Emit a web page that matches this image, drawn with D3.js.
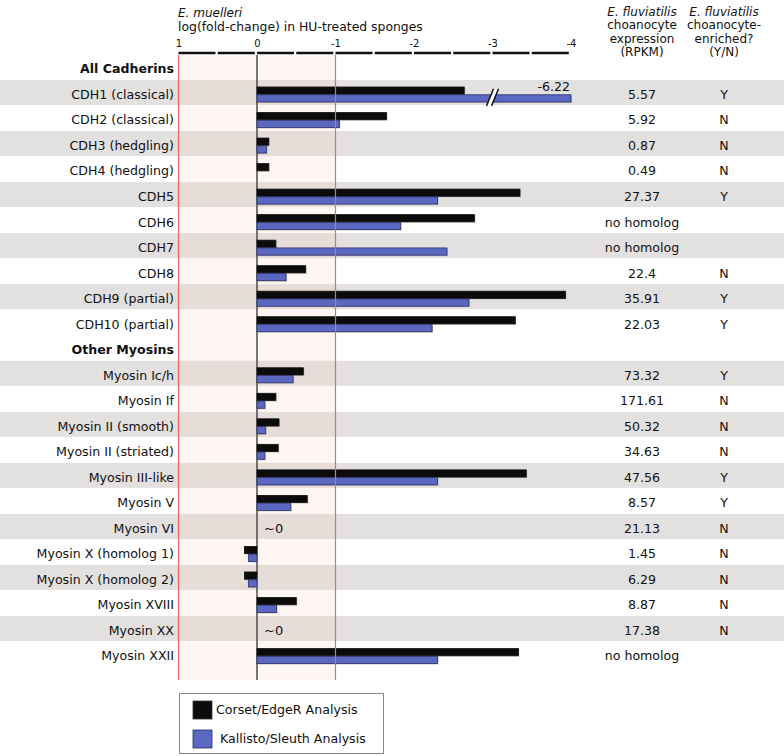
<!DOCTYPE html>
<html>
<head>
<meta charset="utf-8">
<script src="https://cdn.jsdelivr.net/npm/d3@7"></script>
<style>
  html, body { margin: 0; padding: 0; background: #fff; }
  svg { display: block; font-family: "DejaVu Sans", sans-serif; }
</style>
</head>
<body>
<svg id="chart" width="784" height="756"></svg>
<script>
// ---------------- data ----------------
const rowLabels = [
  "All Cadherins", "CDH1 (classical)", "CDH2 (classical)", "CDH3 (hedgling)", "CDH4 (hedgling)",
  "CDH5", "CDH6", "CDH7", "CDH8", "CDH9 (partial)", "CDH10 (partial)",
  "Other Myosins", "Myosin Ic/h", "Myosin If", "Myosin II (smooth)", "Myosin II (striated)",
  "Myosin III-like", "Myosin V", "Myosin VI", "Myosin X (homolog 1)", "Myosin X (homolog 2)",
  "Myosin XVIII", "Myosin XX", "Myosin XXII"
];
const headerRows = ["All Cadherins", "Other Myosins"];
const shadedRows = ["CDH1 (classical)", "CDH3 (hedgling)", "CDH5", "CDH7", "CDH9 (partial)",
  "Myosin Ic/h", "Myosin II (smooth)", "Myosin III-like", "Myosin VI", "Myosin X (homolog 2)", "Myosin XX"];
// Corset/EdgeR log fold-change
const corsetValues = [null, -2.64, -1.65, -0.15, -0.15, -3.35, -2.77, -0.24, -0.62, -3.93, -3.29,
  null, -0.59, -0.24, -0.28, -0.27, -3.43, -0.64, null, 0.16, 0.16, -0.50, null, -3.33];
// Kallisto/Sleuth log fold-change
const kallistoValues = [null, -6.22, -1.05, -0.12, null, -2.30, -1.83, -2.42, -0.37, -2.70, -2.23,
  null, -0.46, -0.10, -0.11, -0.10, -2.30, -0.43, null, 0.11, 0.11, -0.25, null, -2.30];
const nearZeroRows = ["Myosin VI", "Myosin XX"];
const rpkmValues = ["", "5.57", "5.92", "0.87", "0.49", "27.37", "no homolog", "no homolog", "22.4",
  "35.91", "22.03", "", "73.32", "171.61", "50.32", "34.63", "47.56", "8.57", "21.13", "1.45",
  "6.29", "8.87", "17.38", "no homolog"];
const enrichedValues = ["", "Y", "N", "N", "N", "Y", "", "", "N", "Y", "Y", "", "Y", "N", "N", "N",
  "Y", "Y", "N", "N", "N", "N", "N", ""];
const tickValues = [1, 0, -1, -2, -3, -4];
const seriesNames = ["Corset/EdgeR Analysis", "Kallisto/Sleuth Analysis"];
const seriesColors = ["#0b0b0b", "#5b68c1"];

// ---------------- layout ----------------
const svg = d3.select("#chart");
const x = d3.scaleLinear().domain([1, -4]).range([178.5, 571]);
const y = d3.scaleBand().domain(rowLabels).range([56.2, 668.8]);
const cy = r => y(r) + y.bandwidth() / 2;
const lineTop = 55, lineBottom = 680;
const plainMinus = s => s.replace("\u2212", "-");

const rows = rowLabels.map((r, i) => ({
  label: r, corset: corsetValues[i], kallisto: kallistoValues[i],
  rpkm: rpkmValues[i], enriched: enrichedValues[i]
}));

// row bands
svg.append("g").selectAll("rect").data(shadedRows).join("rect")
  .attr("x", 0).attr("width", 784)
  .attr("y", d => cy(d) - 14.5).attr("height", 25)
  .attr("fill", "#e3e0e0");

// peach region between +1 and -1
svg.append("rect")
  .attr("x", x(1)).attr("width", x(-1) - x(1))
  .attr("y", lineTop).attr("height", lineBottom - lineTop)
  .attr("fill", "#f4cfb5").attr("opacity", 0.18);

// zero line
svg.append("line")
  .attr("x1", x(0)).attr("x2", x(0)).attr("y1", lineTop).attr("y2", lineBottom)
  .attr("stroke", "#555").attr("stroke-width", 1.6);

// bars
const barG = svg.append("g");
function drawBar(row, val, idx) {
  const shown = Math.max(val, x.domain()[1]);
  const x0 = Math.min(x(0), x(shown)), w = Math.abs(x(shown) - x(0));
  const yTop = idx === 0 ? cy(row) - 7.5 : cy(row) + 0.3;
  const h = 7.2;
  barG.append("rect").attr("x", x0 + 1).attr("y", yTop + 1).attr("width", w).attr("height", h)
    .attr("fill", "#9a9a9a").attr("opacity", 0.55);
  barG.append("rect").attr("x", x0).attr("y", yTop).attr("width", w).attr("height", h)
    .attr("fill", seriesColors[idx])
    .attr("stroke", idx === 0 ? "#111" : "#2a2f6a").attr("stroke-width", 0.8);
  if (val < x.domain()[1]) {
    // axis break mark
    const bx = x(-3);
    const g = barG.append("g");
    g.append("path")
      .attr("d", `M${bx - 6},${yTop + h + 4} L${bx + 1},${yTop - 6} L${bx + 6},${yTop - 6} L${bx - 1},${yTop + h + 4} Z`)
      .attr("fill", "#fff");
    g.append("line").attr("x1", bx - 6).attr("y1", yTop + h + 4).attr("x2", bx + 1).attr("y2", yTop - 6)
      .attr("stroke", "#111").attr("stroke-width", 1.5);
    g.append("line").attr("x1", bx - 1).attr("y1", yTop + h + 4).attr("x2", bx + 6).attr("y2", yTop - 6)
      .attr("stroke", "#111").attr("stroke-width", 1.5);
    barG.append("text").attr("x", x(shown) - 1).attr("y", cy(row) - 3)
      .attr("text-anchor", "end").attr("font-size", 12.6).attr("fill", "#111")
      .text(plainMinus(d3.format(".2f")(val)));
  }
}
rows.forEach(r => {
  if (r.corset !== null) drawBar(r.label, r.corset, 0);
  if (r.kallisto !== null) drawBar(r.label, r.kallisto, 1);
});
svg.append("g").selectAll("text").data(nearZeroRows).join("text")
  .attr("x", x(0) + 7).attr("y", d => cy(d)).attr("dy", "0.35em")
  .attr("font-size", 13).attr("fill", "#111").text("~0");

// red reference lines on top
svg.append("g").selectAll("line").data([1, -1]).join("line")
  .attr("x1", d => x(d)).attr("x2", d => x(d)).attr("y1", lineTop).attr("y2", lineBottom)
  .attr("stroke", "#ea6a5c").attr("stroke-width", 1.2);

// row labels
svg.append("g").selectAll("text").data(rowLabels).join("text")
  .attr("x", 174).attr("y", d => cy(d)).attr("dy", "0.35em")
  .attr("text-anchor", "end").attr("font-size", 12.6)
  .attr("font-weight", d => headerRows.includes(d) ? "bold" : "normal")
  .attr("fill", "#111").text(d => d);

// right columns
svg.append("g").selectAll("text").data(rows).join("text")
  .attr("x", 642).attr("y", d => cy(d.label)).attr("dy", "0.35em")
  .attr("text-anchor", "middle").attr("font-size", 12.6).attr("fill", "#111")
  .text(d => d.rpkm);
svg.append("g").selectAll("text").data(rows).join("text")
  .attr("x", 724).attr("y", d => cy(d.label)).attr("dy", "0.35em")
  .attr("text-anchor", "middle").attr("font-size", 12.6).attr("fill", "#111")
  .text(d => d.enriched);

// top axis
const axis = d3.axisTop(x).tickValues(tickValues).tickSize(0).tickPadding(0)
  .tickFormat(d => plainMinus(d3.format("d")(d)));
const axG = svg.append("g").attr("transform", "translate(0,47)").call(axis);
axG.select(".domain").remove();
axG.selectAll("text").attr("font-size", 10).attr("font-family", "DejaVu Sans, sans-serif").attr("fill", "#111");
svg.append("line")
  .attr("x1", x(1)).attr("x2", x(-4)).attr("y1", 53).attr("y2", 53)
  .attr("stroke", "#111").attr("stroke-width", 2.4).attr("stroke-dasharray", "37,2.25");

// headers
const hdr = svg.append("g").attr("fill", "#111").attr("font-size", 12);
hdr.append("text").attr("x", 178).attr("y", 17).attr("font-style", "italic").text("E. muelleri");
hdr.append("text").attr("x", 178).attr("y", 31).attr("font-size", 12.4).text("log(fold-change) in HU-treated sponges");
const col1 = [["E. fluviatilis", true], ["choanocyte", false], ["expression", false], ["(RPKM)", false]];
const col2 = [["E. fluviatilis", true], ["choanocyte-", false], ["enriched?", false], ["(Y/N)", false]];
[[col1, 642], [col2, 724]].forEach(([lines, cx]) => {
  lines.forEach((l, i) => {
    hdr.append("text").attr("x", cx).attr("y", 15.5 + i * 13.5).attr("text-anchor", "middle")
      .attr("font-style", l[1] ? "italic" : "normal").text(l[0]);
  });
});

// legend
const lg = svg.append("g");
lg.append("rect").attr("x", 179.5).attr("y", 693.5).attr("width", 204).attr("height", 60)
  .attr("fill", "#fff").attr("stroke", "#888").attr("stroke-width", 1);
seriesNames.forEach((name, i) => {
  lg.append("rect").attr("x", 193).attr("y", 701 + i * 29).attr("width", 19).attr("height", 18)
    .attr("fill", seriesColors[i]).attr("stroke", i === 0 ? "#333" : "#2a2f6a").attr("stroke-width", 0.8);
  lg.append("text").attr("x", 216 + i * 4).attr("y", 710 + i * 29).attr("dy", "0.35em")
    .attr("font-size", 12.6).attr("fill", "#111").text(name);
});
</script>
</body>
</html>
